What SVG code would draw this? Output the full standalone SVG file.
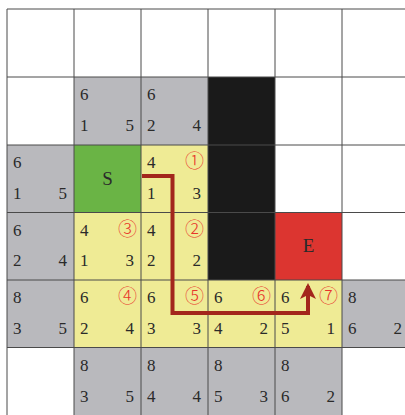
<svg xmlns="http://www.w3.org/2000/svg" width="405" height="415" viewBox="0 0 405 415">
<style>
.w{fill:#ffffff}.g{fill:#b9b9bd}.y{fill:#efeb95}.k{fill:#1a1a1a}
.grid{stroke:#4a4a4a;stroke-width:1;fill:none}
.n{font-family:"Liberation Serif","Times New Roman",serif;font-size:17px;fill:#2a2a2a}
.r{text-anchor:end}
.c{font-family:"Noto Sans CJK SC","DejaVu Sans",sans-serif;font-size:19px;font-weight:300;fill:#e8352b;text-anchor:end}
.lbl{font-family:"Liberation Serif","Times New Roman",serif;font-size:19px;fill:#2a2a2a;text-anchor:middle}
.path{stroke:#a3261c;stroke-width:4;fill:none;stroke-linejoin:miter}
</style>
<defs>
<marker id="ah" viewBox="0 0 16 16" refX="13" refY="8" markerWidth="16" markerHeight="16" orient="auto" markerUnits="userSpaceOnUse">
<path d="M0,0 L16,8 L0,16 L4,8 z" fill="#a3261c"/>
</marker>
</defs>
<rect x="0" y="0" width="405" height="415" fill="#ffffff"/>
<g id="cells">
<rect class="g" x="74" y="77" width="67" height="68"/>
<rect class="g" x="141" y="77" width="67" height="68"/>
<rect class="k" x="208" y="77" width="67" height="203"/>
<rect class="g" x="7" y="145" width="67" height="67.5"/>
<rect class="y" x="141" y="145" width="67" height="67.5"/>
<rect class="g" x="7" y="212.5" width="67" height="67.5"/>
<rect class="y" x="74" y="212.5" width="67" height="67.5"/>
<rect class="y" x="141" y="212.5" width="67" height="67.5"/>
<rect class="g" x="7" y="280" width="67" height="67.5"/>
<rect class="y" x="74" y="280" width="268" height="67.5"/>
<rect class="g" x="342" y="280" width="67" height="67.5"/>
<rect class="g" x="74" y="347.5" width="268" height="67.5"/>
</g>
<g id="S">
<rect x="74" y="145" width="67" height="67.5" fill="#6ab445"/>
<text class="lbl" x="107.5" y="185">S</text>
</g>
<g id="E">
<rect x="275" y="212.5" width="67" height="67.5" fill="#dc3530"/>
<text class="lbl" x="308.5" y="252">E</text>
</g>
<g id="gridlines" class="grid">
<path d="M7,9V415M74,9V415M141,9V415M208,9V415M275,9V415M342,9V415M7,9H409M7,77H409M7,145H409M7,212.5H409M7,280H409M7,347.5H409"/>
</g>
<g id="numbers">
<g id="c11"><text class="n" x="80" y="100">6</text><text class="n" x="80" y="131">1</text><text class="n r" x="134" y="131">5</text></g>
<g id="c21"><text class="n" x="147" y="100">6</text><text class="n" x="147" y="131">2</text><text class="n r" x="201" y="131">4</text></g>
<g id="c02"><text class="n" x="13" y="168">6</text><text class="n" x="13" y="199">1</text><text class="n r" x="67" y="199">5</text></g>
<g id="c22"><text class="n" x="147" y="168">4</text><text class="c" x="204" y="168">①</text><text class="n" x="147" y="199">1</text><text class="n r" x="201" y="199">3</text></g>
<g id="c03"><text class="n" x="13" y="236">6</text><text class="n" x="13" y="266">2</text><text class="n r" x="67" y="266">4</text></g>
<g id="c13"><text class="n" x="80" y="236">4</text><text class="c" x="137" y="236">③</text><text class="n" x="80" y="266">1</text><text class="n r" x="134" y="266">3</text></g>
<g id="c23"><text class="n" x="147" y="236">4</text><text class="c" x="204" y="236">②</text><text class="n" x="147" y="266">2</text><text class="n r" x="201" y="266">2</text></g>
<g id="c04"><text class="n" x="13" y="303">8</text><text class="n" x="13" y="334">3</text><text class="n r" x="67" y="334">5</text></g>
<g id="c14"><text class="n" x="80" y="303">6</text><text class="c" x="137" y="303">④</text><text class="n" x="80" y="334">2</text><text class="n r" x="134" y="334">4</text></g>
<g id="c24"><text class="n" x="147" y="303">6</text><text class="c" x="204" y="303">⑤</text><text class="n" x="147" y="334">3</text><text class="n r" x="201" y="334">3</text></g>
<g id="c34"><text class="n" x="214" y="303">6</text><text class="c" x="271" y="303">⑥</text><text class="n" x="214" y="334">4</text><text class="n r" x="268" y="334">2</text></g>
<g id="c44"><text class="n" x="281" y="303">6</text><text class="c" x="338" y="303">⑦</text><text class="n" x="281" y="334">5</text><text class="n r" x="335" y="334">1</text></g>
<g id="c54"><text class="n" x="348" y="303">8</text><text class="n" x="348" y="334">6</text><text class="n r" x="402" y="334">2</text></g>
<g id="c15"><text class="n" x="80" y="371">8</text><text class="n" x="80" y="402">3</text><text class="n r" x="134" y="402">5</text></g>
<g id="c25"><text class="n" x="147" y="371">8</text><text class="n" x="147" y="402">4</text><text class="n r" x="201" y="402">4</text></g>
<g id="c35"><text class="n" x="214" y="371">8</text><text class="n" x="214" y="402">5</text><text class="n r" x="268" y="402">3</text></g>
<g id="c45"><text class="n" x="281" y="371">8</text><text class="n" x="281" y="402">6</text><text class="n r" x="335" y="402">2</text></g>
</g>
<g id="connectors">
<path class="path" d="M142,176 H172.5 V313 H308 V286" marker-end="url(#ah)"/>
</g>
</svg>
